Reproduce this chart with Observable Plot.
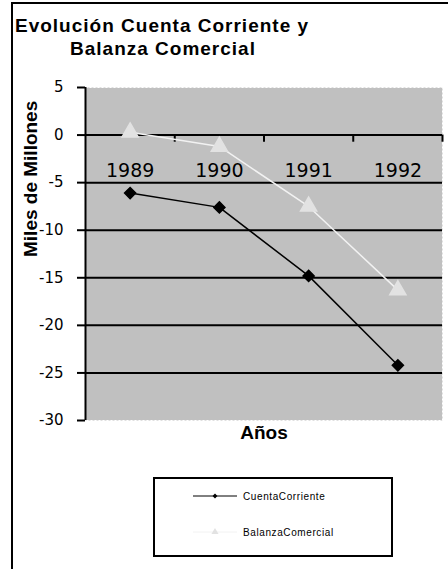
<!DOCTYPE html>
<html>
<head>
<meta charset="utf-8">
<script src="https://cdn.jsdelivr.net/npm/d3@7"></script>
<script src="https://cdn.jsdelivr.net/npm/@observablehq/plot@0.6"></script>
<style>
  html, body { margin: 0; padding: 0; background: #fff; width: 448px; height: 569px; overflow: hidden; }
  #page { position: relative; width: 448px; height: 569px; font-family: "Liberation Sans", Arial, sans-serif; }
  #border { position: absolute; left: 11px; top: 2px; width: 600px; height: 700px; border-left: 2px solid #000; border-top: 2px solid #000; }
  .title { position: absolute; font-weight: bold; font-size: 19px; line-height: 19px; letter-spacing: 1px; white-space: nowrap; color: #000; }
  #chart { position: absolute; left: 0; top: 0; }
  #legend { position: absolute; left: 153px; top: 477px; width: 240px; height: 80px; box-sizing: border-box; border: 2px solid #000; background: #fff; }
  .lg { position: absolute; left: 38px; height: 14px; display: flex; align-items: center; }
  .lg span { font-size: 10px; letter-spacing: 0.6px; margin-left: 6px; color: #000; white-space: nowrap; }
  svg g[aria-label^="y-axis"] line, svg g[aria-label="y-axis tick"] path { stroke-width: 2px; }
</style>
</head>
<body>
<div id="page">
  <div id="border"></div>
  <div class="title" style="left:15px; top:16px;">Evolución Cuenta Corriente y</div>
  <div class="title" style="left:70px; top:39px;">Balanza Comercial</div>
  <div id="chart"></div>
  <div id="legend"></div>
</div>
<script>
// ---- data ----
const years = [1989, 1990, 1991, 1992];
const yearLabels = ["1989", "1990", "1991", "1992"];
const cuentaCorriente = [-6.1, -7.6, -14.8, -24.2];
const balanzaComercial = [0.3, -1.2, -7.5, -16.3];
const yTicks = [5, 0, -5, -10, -15, -20, -25, -30];
const gridValues = [0, -5, -10, -15, -20, -25];
const seriesNames = ["CuentaCorriente", "BalanzaComercial"];
const titleY = "Miles de Millones";
const titleX = "Años";

const rows = years.map((year, i) => ({year, label: yearLabels[i], cc: cuentaCorriente[i], bc: balanzaComercial[i]}));
const boundaries = years.map(y => y + 0.5);

const colCC = "#000000";
const colBC = "#f2f2f2";
const colBCMarker = "#e2e2e2";

const chart = Plot.plot({
  width: 448,
  height: 569,
  marginLeft: 85,
  marginRight: 6,
  marginTop: 87,
  marginBottom: 149,
  x: {domain: [years[0] - 0.5, years[years.length - 1] + 0.5], axis: null},
  y: {domain: [-30, 5], ticks: yTicks, tickSize: 8, tickPadding: 14, tickFormat: d => String(d), label: null},
  style: {fontFamily: "DejaVu Sans", fontSize: "15px", color: "#000", background: "transparent", overflow: "visible"},
  marks: [
    Plot.frame({fill: "#c0c0c0"}),
    Plot.frame({stroke: "#ffffff", strokeDasharray: "2,2"}),
    Plot.ruleY(gridValues, {stroke: "#000", strokeWidth: 2}),
    Plot.ruleX(boundaries, {y1: 0, y2: -0.75, stroke: "#000", strokeWidth: 2}),
    Plot.ruleX([years[0] - 0.5], {stroke: "#000", strokeWidth: 2}),
    Plot.text(rows, {x: "year", y: () => 0, text: "label", dy: 36, fontSize: 19, fill: "#000"}),
    Plot.line(rows, {x: "year", y: "bc", stroke: colBC, strokeWidth: 1.5}),
    Plot.dot(rows, {x: "year", y: "bc", symbol: "triangle", r: 6, fill: colBCMarker, stroke: colBCMarker}),
    Plot.line(rows, {x: "year", y: "cc", stroke: colCC, strokeWidth: 1.5}),
    Plot.dot(rows, {x: "year", y: "cc", symbol: "diamond2", r: 5, fill: colCC, stroke: colCC}),
    Plot.text([titleY], {frameAnchor: "left", dx: -55, dy: 3, rotate: -90, fontWeight: "bold", fontSize: 19, fontFamily: "Liberation Sans", fill: "#000"}),
    Plot.text([titleX], {frameAnchor: "bottom", dy: 18, fontWeight: "bold", fontSize: 19, fontFamily: "Liberation Sans", fill: "#000"})
  ]
});
document.getElementById("chart").appendChild(chart);

// ---- legend ----
const legend = document.getElementById("legend");
const legendItems = [
  {name: seriesNames[0], color: colCC, marker: "diamond", top: 10},
  {name: seriesNames[1], color: colBC, marker: "triangle", top: 46}
];
for (const it of legendItems) {
  const div = document.createElement("div");
  div.className = "lg";
  div.style.top = it.top + "px";
  const svg = d3.create("svg").attr("width", 44).attr("height", 14);
  svg.append("line").attr("x1", 0).attr("x2", 44).attr("y1", 7).attr("y2", 7).attr("stroke", it.color).attr("stroke-width", 1);
  if (it.marker === "diamond") {
    svg.append("path").attr("transform", "translate(22,7) rotate(45)")
      .attr("d", d3.symbol(d3.symbolSquare, 12)()).attr("fill", colCC);
  } else {
    svg.append("path").attr("transform", "translate(22,7)")
      .attr("d", d3.symbol(d3.symbolTriangle, 22)()).attr("fill", colBCMarker);
  }
  div.appendChild(svg.node());
  const span = document.createElement("span");
  span.textContent = it.name;
  div.appendChild(span);
  legend.appendChild(div);
}
</script>
</body>
</html>
